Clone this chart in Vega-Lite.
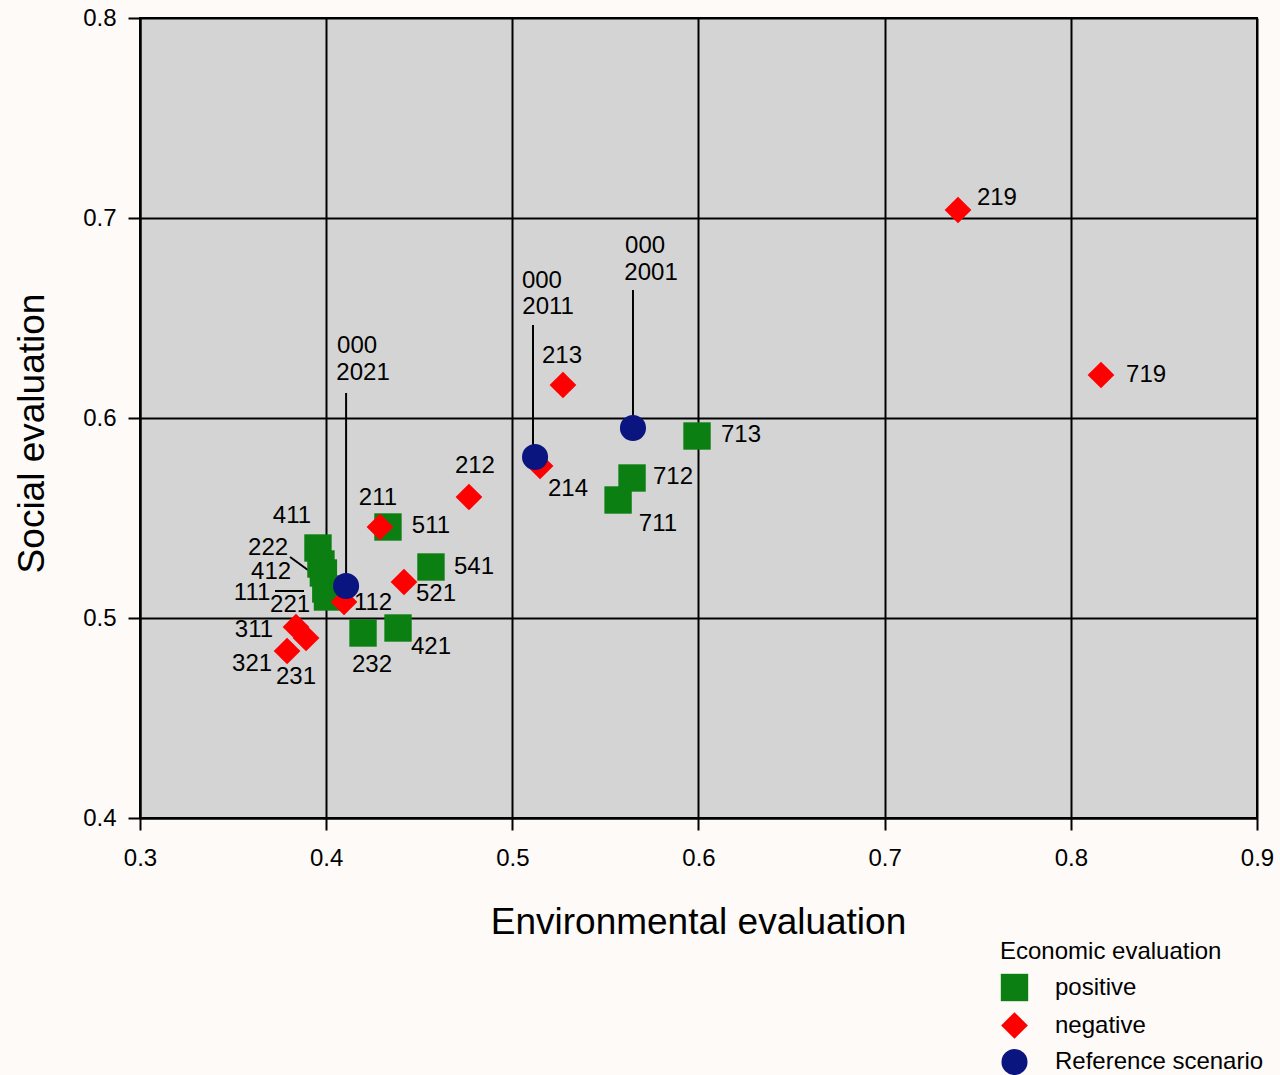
{
  "$schema": "https://vega.github.io/schema/vega-lite/v6.json",
  "autosize": "none",
  "width": 1117,
  "height": 800,
  "padding": {"left": 140, "top": 18, "right": 23, "bottom": 257},
  "background": "#fdfaf7",
  "config": {
    "font": "Liberation Sans",
    "view": {"fill": "#d4d4d4", "stroke": "#000000", "strokeWidth": 2},
    "axis": {
      "domainColor": "#000000", "domainWidth": 2,
      "gridColor": "#000000", "gridWidth": 2, "gridOpacity": 1,
      "tickColor": "#000000", "tickWidth": 2, "tickSize": 12,
      "labelFont": "Liberation Sans", "labelFontSize": 24, "labelColor": "#000000", "labelFlush": false,
      "titleFont": "Liberation Sans", "titleFontSize": 37, "titleFontWeight": "normal", "titleColor": "#000000"
    },
    "legend": {
      "titleFont": "Liberation Sans", "titleFontSize": 24, "titleFontWeight": "normal", "titleColor": "#000000",
      "labelFont": "Liberation Sans", "labelFontSize": 24, "labelColor": "#000000", "titleLimit": 0, "labelLimit": 0
    }
  },
  "datasets": {
    "points": [
      {"code": "411", "env": 0.3956, "soc": 0.535, "econ": "positive"},
      {"code": "222", "env": 0.3972, "soc": 0.527, "econ": "positive"},
      {"code": "412", "env": 0.3985, "soc": 0.5225, "econ": "positive"},
      {"code": "111", "env": 0.3998, "soc": 0.5145, "econ": "positive"},
      {"code": "221", "env": 0.4007, "soc": 0.5105, "econ": "positive"},
      {"code": "511", "env": 0.4332, "soc": 0.5455, "econ": "positive"},
      {"code": "541", "env": 0.4563, "soc": 0.5255, "econ": "positive"},
      {"code": "232", "env": 0.4198, "soc": 0.4925, "econ": "positive"},
      {"code": "421", "env": 0.4386, "soc": 0.495, "econ": "positive"},
      {"code": "711", "env": 0.5568, "soc": 0.559, "econ": "positive"},
      {"code": "712", "env": 0.5643, "soc": 0.57, "econ": "positive"},
      {"code": "713", "env": 0.5992, "soc": 0.591, "econ": "positive"},
      {"code": "219", "env": 0.7394, "soc": 0.704, "econ": "negative"},
      {"code": "719", "env": 0.8162, "soc": 0.6215, "econ": "negative"},
      {"code": "213", "env": 0.5272, "soc": 0.6165, "econ": "negative"},
      {"code": "214", "env": 0.5149, "soc": 0.576, "econ": "negative"},
      {"code": "212", "env": 0.4767, "soc": 0.5605, "econ": "negative"},
      {"code": "211", "env": 0.4289, "soc": 0.5455, "econ": "negative"},
      {"code": "521", "env": 0.4418, "soc": 0.518, "econ": "negative"},
      {"code": "112", "env": 0.4096, "soc": 0.508, "econ": "negative"},
      {"code": "311", "env": 0.3838, "soc": 0.4955, "econ": "negative"},
      {"code": "231", "env": 0.3892, "soc": 0.49, "econ": "negative"},
      {"code": "321", "env": 0.379, "soc": 0.4835, "econ": "negative"},
      {"code": "000 2021", "env": 0.4107, "soc": 0.516, "econ": "Reference scenario"},
      {"code": "000 2011", "env": 0.5122, "soc": 0.5805, "econ": "Reference scenario"},
      {"code": "000 2001", "env": 0.5648, "soc": 0.595, "econ": "Reference scenario"}
    ],
    "labels": [
      {"text": "219", "lx": 0.7603, "ly": 0.71},
      {"text": "719", "lx": 0.8404, "ly": 0.6215},
      {"text": "213", "lx": 0.5267, "ly": 0.631},
      {"text": "214", "lx": 0.5299, "ly": 0.5645},
      {"text": "212", "lx": 0.4799, "ly": 0.576},
      {"text": "211", "lx": 0.4278, "ly": 0.56},
      {"text": "511", "lx": 0.4563, "ly": 0.546},
      {"text": "541", "lx": 0.4794, "ly": 0.5255},
      {"text": "521", "lx": 0.459, "ly": 0.512},
      {"text": "112", "lx": 0.4252, "ly": 0.5075},
      {"text": "232", "lx": 0.4246, "ly": 0.4765},
      {"text": "421", "lx": 0.4563, "ly": 0.4855},
      {"text": "411", "lx": 0.3816, "ly": 0.551},
      {"text": "222", "lx": 0.3688, "ly": 0.535},
      {"text": "412", "lx": 0.3704, "ly": 0.523},
      {"text": "111", "lx": 0.3602, "ly": 0.5125},
      {"text": "221", "lx": 0.3806, "ly": 0.5065},
      {"text": "311", "lx": 0.3612, "ly": 0.494},
      {"text": "321", "lx": 0.3602, "ly": 0.477},
      {"text": "231", "lx": 0.3838, "ly": 0.4705},
      {"text": "711", "lx": 0.5782, "ly": 0.547},
      {"text": "712", "lx": 0.5863, "ly": 0.5705},
      {"text": "713", "lx": 0.6228, "ly": 0.5915},
      {"text": "000", "lx": 0.4166, "ly": 0.636},
      {"text": "2021", "lx": 0.4198, "ly": 0.6225},
      {"text": "000", "lx": 0.5159, "ly": 0.6685},
      {"text": "2011", "lx": 0.5192, "ly": 0.6555},
      {"text": "000", "lx": 0.5713, "ly": 0.686},
      {"text": "2001", "lx": 0.5745, "ly": 0.6725}
    ],
    "leaders": [
      {"x1": 0.4107, "y1": 0.516, "x2": 0.4107, "y2": 0.6125},
      {"x1": 0.5111, "y1": 0.5805, "x2": 0.5111, "y2": 0.6465},
      {"x1": 0.5648, "y1": 0.595, "x2": 0.5648, "y2": 0.664},
      {"x1": 0.3806, "y1": 0.5305, "x2": 0.3902, "y2": 0.524},
      {"x1": 0.3725, "y1": 0.5135, "x2": 0.3881, "y2": 0.5135}
    ]
  },
  "layer": [
    {
      "data": {"name": "leaders"},
      "mark": {"type": "rule", "color": "#000000", "strokeWidth": 2},
      "encoding": {
        "x": {"field": "x1", "type": "quantitative", "scale": {"domain": [0.3, 0.9], "nice": false}, "title": "Environmental evaluation",
          "axis": {"values": [0.3, 0.4, 0.5, 0.6, 0.7, 0.8, 0.9], "format": ".1f", "labelPadding": 16, "titleX": 558, "titleY": 104, "titleBaseline": "middle", "titleAnchor": "middle"}},
        "y": {"field": "y1", "type": "quantitative", "scale": {"domain": [0.4, 0.8], "nice": false}, "title": "Social evaluation",
          "axis": {"values": [0.4, 0.5, 0.6, 0.7, 0.8], "format": ".1f", "labelPadding": 12, "titleX": -108, "titleY": 415, "titleBaseline": "middle", "titleAnchor": "middle", "titleAngle": -90}},
        "x2": {"field": "x2"},
        "y2": {"field": "y2"}
      }
    },
    {
      "data": {"name": "points"},
      "mark": {"type": "point", "filled": true, "opacity": 1, "strokeWidth": 0},
      "encoding": {
        "x": {"field": "env", "type": "quantitative"},
        "y": {"field": "soc", "type": "quantitative"},
        "shape": {"field": "econ", "type": "nominal", "title": "Economic evaluation",
          "scale": {"domain": ["positive", "negative", "Reference scenario"], "range": ["square", "diamond", "circle"]},
          "legend": {"orient": "none", "legendX": 860, "legendY": 922, "rowPadding": 9, "labelOffset": 26, "titlePadding": 9}},
        "color": {"field": "econ", "type": "nominal", "title": "Economic evaluation",
          "scale": {"domain": ["positive", "negative", "Reference scenario"], "range": ["#0b7f12", "#ff0000", "#0a1580"]}},
        "size": {"field": "econ", "type": "nominal", "title": "Economic evaluation",
          "scale": {"domain": ["positive", "negative", "Reference scenario"], "range": [750, 680, 480]}},
        "order": {"field": "econ", "sort": "descending"}
      }
    },
    {
      "data": {"name": "labels"},
      "mark": {"type": "text", "fontSize": 24, "color": "#000000", "align": "center", "baseline": "middle"},
      "encoding": {
        "x": {"field": "lx", "type": "quantitative"},
        "y": {"field": "ly", "type": "quantitative"},
        "text": {"field": "text", "type": "nominal"}
      }
    }
  ]
}
